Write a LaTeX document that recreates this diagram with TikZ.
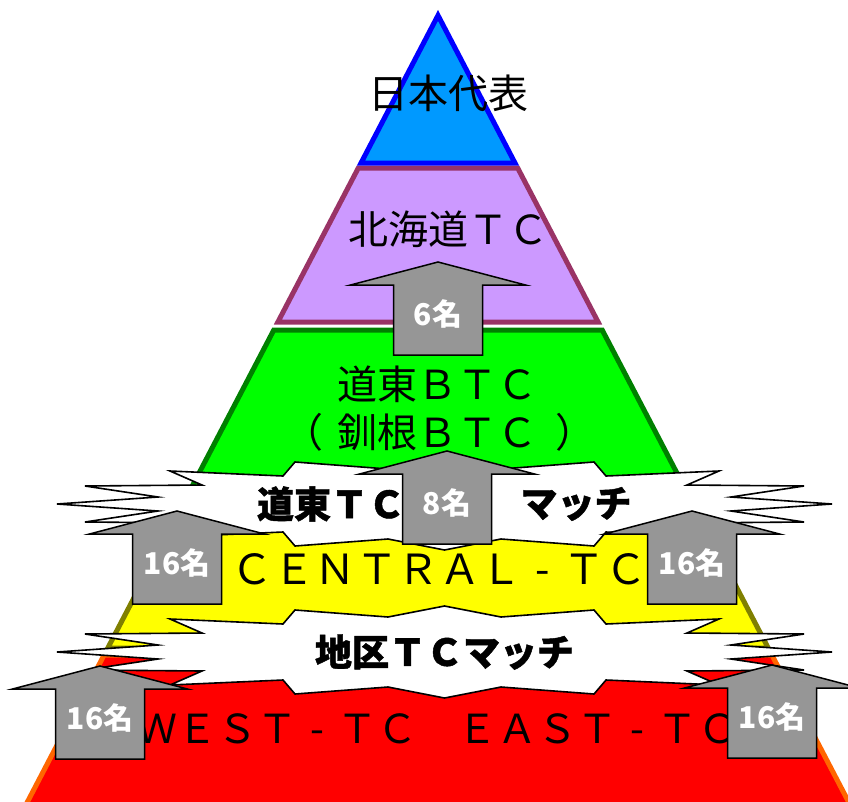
\documentclass[tikz,border=0pt]{standalone}
\usepackage{fontspec}
\newfontfamily\jp{Noto Sans CJK JP}
\newfontfamily\jpheavy[FakeBold=1.2]{Noto Sans CJK JP}
\definecolor{cBlue}{HTML}{0099FF}
\definecolor{cBlueLine}{HTML}{0000FF}
\definecolor{cPurple}{HTML}{CC99FF}
\definecolor{cPurpleLine}{HTML}{993366}
\definecolor{cGreen}{HTML}{00FF00}
\definecolor{cGreenLine}{HTML}{008000}
\definecolor{cYellow}{HTML}{FFFF00}
\definecolor{cYellowLine}{HTML}{808000}
\definecolor{cRed}{HTML}{FF0000}
\definecolor{cRedLine}{HTML}{FF6600}
\definecolor{cGray}{HTML}{969696}
\newcommand{\fwdash}{\makebox[1em]{-}}
\newcommand{\lparen}{\makebox[1em][l]{\kern-0.35em（}}
\newcommand{\rparen}{\makebox[1em][l]{\kern0.45em）}}
\tikzset{
  layer/.style={line width=5pt, line join=miter},
  layertext/.style={font=\jp\fontsize{40}{48}\selectfont, text=black, inner sep=0pt, align=center},
  bannertext/.style={font=\jpheavy\bfseries\fontsize{37}{40}\selectfont, text=black, inner sep=0pt},
  arrowbody/.style={fill=cGray, draw=black, line width=1.5pt, line join=miter},
  arrowtext/.style={font=\jp\bfseries\fontsize{30}{32}\selectfont, text=white, inner sep=0pt},
  bannerbody/.style={fill=white, draw=black, line width=1.6pt, line join=miter},
  uparrow/.pic={
    \draw[arrowbody] (0,0) -- (87.5,23) -- (44.5,23) -- (44.5,93) -- (-44.5,93)
      -- (-44.5,23) -- (-87.5,23) -- cycle;
    \node[arrowtext] (-label) at (0,52) {#1};
  },
  banner/.pic={
    \draw[bannerbody] (-274.5,-33) -- (-161.5,-28) -- (-149.5,-42) -- (-56.5,-35) -- (0,-46)
      -- (56.5,-35) -- (149.5,-42) -- (161.5,-28) -- (274.5,-33)
      -- (242.5,-19) -- (359.5,-18) -- (286.5,-7) -- (387.5,0) -- (286.5,7) -- (359.5,18)
      -- (242.5,19) -- (274.5,33)
      -- (161.5,28) -- (149.5,42) -- (56.5,35) -- (0,46) -- (-56.5,35) -- (-149.5,42)
      -- (-161.5,28) -- (-274.5,33)
      -- (-242.5,19) -- (-359.5,18) -- (-286.5,7) -- (-387.5,0) -- (-286.5,-7)
      -- (-359.5,-18) -- (-242.5,-19) -- cycle;
  }
}
\begin{document}
\begin{tikzpicture}[x=1pt,y=-1pt]
\useasboundingbox (0,0) rectangle (848,801);
\clip (0,0) rectangle (848,801);
% pyramid layers
\draw[layer, draw=cRedLine, fill=cRed] (104.1,655) -- (771.9,655) -- (852.8,810) -- (23.2,810) -- cycle;
\draw[layer, draw=cYellowLine, fill=cYellow] (187.6,495) -- (688.4,495) -- (768.2,648) -- (107.8,648) -- cycle;
\draw[layer, draw=cGreenLine, fill=cGreen] (273.8,330) -- (602.2,330) -- (685.8,490) -- (190.2,490) -- cycle;
\draw[layer, draw=cPurpleLine, fill=cPurple] (358.3,168) -- (517.7,168) -- (598.1,322) -- (277.9,322) -- cycle;
\draw[layer, draw=cBlueLine, fill=cBlue] (438,15.4) -- (515,163) -- (361,163) -- cycle;
% layer texts
\node[layertext] (jpn) at (448,93) {日本代表};
\node[layertext] (hok) at (448,229) {北海道ＴＣ};
\node[layertext] (doto) at (437,409) {道東ＢＴＣ\\\lparen 釧根ＢＴＣ\rparen};
\node[layertext, font=\jp\fontsize{41.5}{48}\selectfont] (cen) at (439,569) {ＣＥＮＴＲＡＬ\fwdash ＴＣ};
\node[layertext] (we) at (437,729) {ＷＥＳＴ\fwdash ＴＣ　ＥＡＳＴ\fwdash ＴＣ};
% banners
\pic (bu) at (444.5,504) {banner};
\pic (bl) at (444.5,652) {banner};
\node[bannertext] (butextl) at (331,504) {道東ＴＣ};
\node[bannertext] (butextr) at (576,504) {マッチ};
\node[bannertext] (bltext) at (444.5,652) {地区ＴＣマッチ};
% arrows
\pic (a6) at (438,262) {uparrow=6名};
\pic (a8) at (447,451) {uparrow=8名};
\pic (a16a) at (177,511) {uparrow=16名};
\pic (a16b) at (692,511) {uparrow=16名};
\pic (a16c) at (100,666) {uparrow=16名};
\pic (a16d) at (772,665) {uparrow=16名};
\end{tikzpicture}
\end{document}
